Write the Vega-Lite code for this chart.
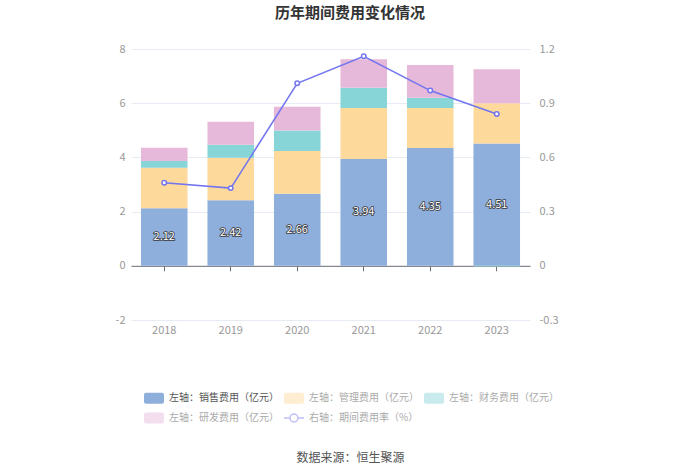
{
  "$schema": "https://vega.github.io/schema/vega-lite/v6.json",
  "description": "历年期间费用变化情况",
  "width": 399,
  "height": 271,
  "autosize": "none",
  "padding": {"left": 131, "top": 49, "right": 170, "bottom": 153},
  "background": "#ffffff",
  "config": {
    "font": "Noto Sans CJK SC",
    "view": {"stroke": null}
  },
  "title": {
    "text": "历年期间费用变化情况",
    "fontSize": 15,
    "fontWeight": "bold",
    "color": "#333333",
    "anchor": "middle",
    "dx": 19.5,
    "offset": 22
  },
  "datasets": {
    "bars": [
      {"year": "2018", "category": "左轴：销售费用（亿元）", "order": 1, "value": 2.12},
      {"year": "2018", "category": "左轴：管理费用（亿元）", "order": 2, "value": 1.50},
      {"year": "2018", "category": "左轴：财务费用（亿元）", "order": 3, "value": 0.25},
      {"year": "2018", "category": "左轴：研发费用（亿元）", "order": 4, "value": 0.49},
      {"year": "2019", "category": "左轴：销售费用（亿元）", "order": 1, "value": 2.42},
      {"year": "2019", "category": "左轴：管理费用（亿元）", "order": 2, "value": 1.57},
      {"year": "2019", "category": "左轴：财务费用（亿元）", "order": 3, "value": 0.48},
      {"year": "2019", "category": "左轴：研发费用（亿元）", "order": 4, "value": 0.85},
      {"year": "2020", "category": "左轴：销售费用（亿元）", "order": 1, "value": 2.66},
      {"year": "2020", "category": "左轴：管理费用（亿元）", "order": 2, "value": 1.58},
      {"year": "2020", "category": "左轴：财务费用（亿元）", "order": 3, "value": 0.75},
      {"year": "2020", "category": "左轴：研发费用（亿元）", "order": 4, "value": 0.88},
      {"year": "2021", "category": "左轴：销售费用（亿元）", "order": 1, "value": 3.94},
      {"year": "2021", "category": "左轴：管理费用（亿元）", "order": 2, "value": 1.88},
      {"year": "2021", "category": "左轴：财务费用（亿元）", "order": 3, "value": 0.75},
      {"year": "2021", "category": "左轴：研发费用（亿元）", "order": 4, "value": 1.05},
      {"year": "2022", "category": "左轴：销售费用（亿元）", "order": 1, "value": 4.35},
      {"year": "2022", "category": "左轴：管理费用（亿元）", "order": 2, "value": 1.47},
      {"year": "2022", "category": "左轴：财务费用（亿元）", "order": 3, "value": 0.38},
      {"year": "2022", "category": "左轴：研发费用（亿元）", "order": 4, "value": 1.21},
      {"year": "2023", "category": "左轴：销售费用（亿元）", "order": 1, "value": 4.51},
      {"year": "2023", "category": "左轴：管理费用（亿元）", "order": 2, "value": 1.49},
      {"year": "2023", "category": "左轴：财务费用（亿元）", "order": 3, "value": -0.03},
      {"year": "2023", "category": "左轴：研发费用（亿元）", "order": 4, "value": 1.25}
    ],
    "rate": [
      {"year": "2018", "rate": 0.46},
      {"year": "2019", "rate": 0.43},
      {"year": "2020", "rate": 1.01},
      {"year": "2021", "rate": 1.16},
      {"year": "2022", "rate": 0.97},
      {"year": "2023", "rate": 0.84}
    ]
  },
  "layer": [
    {
      "data": {"name": "bars"},
      "layer": [
        {
          "mark": {"type": "bar"},
          "encoding": {
            "x": {
              "field": "year",
              "type": "nominal",
              "scale": {"type": "band", "paddingInner": 0.3, "paddingOuter": 0.15},
              "axis": {
                "title": "数据来源：恒生聚源",
                "titleFontSize": 12,
                "titleFontWeight": "normal",
                "titleColor": "#555555",
                "titleX": 219,
                "titleY": 137,
                "titleBaseline": "middle",
                "titleAnchor": "middle",
                "labelAngle": 0,
                "labelColor": "#999999",
                "labelFontSize": 11,
                "labelPadding": 4,
                "domain": false,
                "ticks": false,
                "grid": false
              }
            },
            "y": {
              "field": "value",
              "type": "quantitative",
              "stack": "zero",
              "scale": {"domain": [-2, 8], "nice": false, "zero": false},
              "axis": {
                "title": null,
                "values": [-2, 0, 2, 4, 6, 8],
                "labelExpr": "'' + datum.value",
                "labelColor": "#999999",
                "labelFontSize": 11,
                "labelPadding": 6,
                "domain": false,
                "ticks": false,
                "grid": true,
                "gridColor": "#e6ebf4",
                "gridWidth": 1
              }
            },
            "color": {
              "field": "category",
              "type": "nominal",
              "scale": {
                "domain": ["左轴：销售费用（亿元）", "左轴：管理费用（亿元）", "左轴：财务费用（亿元）", "左轴：研发费用（亿元）", "右轴：期间费用率（%）"],
                "range": ["#8eaedc", "#fdd99b", "#88d5d8", "#e6b8d9", "#7275ef"]
              },
              "legend": {
                "title": null,
                "orient": "none",
                "legendX": 12,
                "legendY": 338,
                "direction": "horizontal",
                "columns": 3,
                "columnPadding": 2,
                "rowPadding": 0,
                "padding": 0,
                "symbolSize": 400,
                "symbolOffset": 0,
                "labelOffset": 4,
                "labelFontSize": 10,
                "labelColor": "#aaaaaa",
                "labelLimit": 200,
                "encode": {
                  "symbols": {
                    "update": {
                      "shape": {"signal": "datum.label === '右轴：期间费用率（%）' ? 'M-1,0H-0.4M0.4,0H1M-0.4,0A0.4,0.4 0 1 0 0.4,0A0.4,0.4 0 1 0 -0.4,0' : 'M-0.8,-0.55H0.8Q1,-0.55 1,-0.35V0.35Q1,0.55 0.8,0.55H-0.8Q-1,0.55 -1,0.35V-0.35Q-1,-0.55 -0.8,-0.55Z'"},
                      "fillOpacity": {"signal": "datum.label === '右轴：期间费用率（%）' ? 0 : 1"},
                      "stroke": {"signal": "datum.label === '右轴：期间费用率（%）' ? '#7275ef' : 'transparent'"},
                      "strokeWidth": {"value": 1.5},
                      "opacity": {"signal": "datum.label === '左轴：销售费用（亿元）' ? 1 : 0.45"}
                    }
                  },
                  "labels": {
                    "update": {
                      "fill": {"signal": "datum.label === '左轴：销售费用（亿元）' ? '#555555' : '#aaaaaa'"}
                    }
                  }
                }
              }
            },
            "order": {"field": "order", "type": "quantitative"}
          }
        },
        {
          "transform": [{"filter": "datum.order === 1"}],
          "mark": {"type": "text", "fontSize": 11, "stroke": "#3a3a3a", "strokeWidth": 1.6, "fill": "#3a3a3a", "baseline": "middle"},
          "encoding": {
            "x": {"field": "year", "type": "nominal"},
            "y": {"field": "value", "type": "quantitative", "stack": "zero", "bandPosition": 0.5},
            "detail": {"field": "category"},
            "text": {"field": "value", "type": "quantitative", "format": ".2f"}
          }
        },
        {
          "transform": [{"filter": "datum.order === 1"}],
          "mark": {"type": "text", "fontSize": 11, "fill": "#ffffff", "baseline": "middle"},
          "encoding": {
            "x": {"field": "year", "type": "nominal"},
            "y": {"field": "value", "type": "quantitative", "stack": "zero", "bandPosition": 0.5},
            "detail": {"field": "category"},
            "text": {"field": "value", "type": "quantitative", "format": ".2f"}
          }
        }
      ]
    },
    {
      "data": {"name": "rate"},
      "layer": [
        {
          "mark": {"type": "line", "color": "#7275ef", "strokeWidth": 1.5},
          "encoding": {
            "x": {
              "field": "year",
              "type": "nominal",
              "axis": {
                "title": null,
                "orient": "bottom",
                "offset": -54.2,
                "labels": false,
                "domain": true,
                "domainColor": "#6e7079",
                "ticks": true,
                "tickColor": "#6e7079",
                "tickSize": 5,
                "grid": false
              }
            },
            "y": {
              "field": "rate",
              "type": "quantitative",
              "scale": {"domain": [-0.3, 1.2], "nice": false, "zero": false},
              "axis": {
                "title": null,
                "orient": "right",
                "values": [-0.3, 0, 0.3, 0.6, 0.9, 1.2],
                "labelExpr": "'' + datum.value",
                "labelColor": "#999999",
                "labelFontSize": 11,
                "labelPadding": 9,
                "domain": false,
                "ticks": false,
                "grid": false
              }
            }
          }
        },
        {
          "mark": {"type": "point", "shape": "circle", "filled": true, "fill": "#ffffff", "stroke": "#7275ef", "strokeWidth": 1.5, "size": 20, "opacity": 1},
          "encoding": {
            "x": {"field": "year", "type": "nominal"},
            "y": {"field": "rate", "type": "quantitative"}
          }
        }
      ]
    }
  ],
  "resolve": {"scale": {"y": "independent"}, "axis": {"x": "independent"}}
}
